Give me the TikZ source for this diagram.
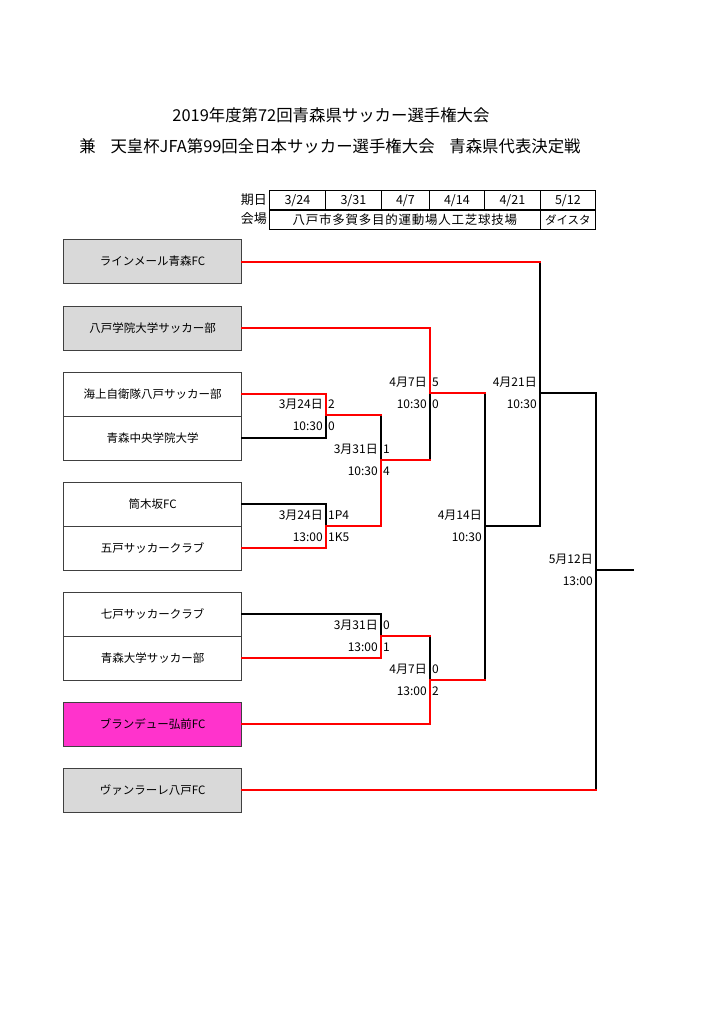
\documentclass[tikz,border=0pt]{standalone}
\usepackage{fontspec}
\setmainfont{Noto Sans CJK JP}
\definecolor{tgray}{HTML}{D9D9D9}
\definecolor{tpink}{HTML}{FF33CC}
\definecolor{tred}{HTML}{FF0000}
\newcommand\mlab[5]{%
  \node[lbl,anchor=east] (#1d) at ([shift={(-3,-11)}]#1) {#2};
  \node[lbl,anchor=east] (#1t) at ([shift={(-3,11)}]#1) {#3};
  \node[lbl,anchor=west] (#1a) at ([shift={(2,-11)}]#1) {#4};
  \node[lbl,anchor=west] (#1b) at ([shift={(2,11)}]#1) {#5};}
\begin{document}
\begin{tikzpicture}[x=1pt,y=-1pt,
  team/.style={draw=black!75, line width=1.2pt, minimum width=178pt, minimum height=44pt, inner sep=0pt, font=\fontsize{11.5}{13}\selectfont, anchor=north west},
  win/.style={tred, line width=2pt, line cap=rect},
  lose/.style={black, line width=2pt, line cap=rect},
  lbl/.style={font=\fontsize{12}{13}\selectfont, inner sep=0pt},
  cell/.style={draw=black, line width=0.8pt, minimum height=20pt, inner sep=0pt, anchor=north west, font=\fontsize{12.5}{13}\selectfont},
  tlab/.style={inner sep=0pt, anchor=east, font=\fontsize{13}{14}\selectfont}]
\useasboundingbox (0,0) rectangle (724,1024);
% titles
\node[inner sep=0pt, font=\fontsize{16.4}{18}\selectfont] (title1) at (331,115) {2019年度第72回青森県サッカー選手権大会};
\node[inner sep=0pt, font=\fontsize{16.4}{18}\selectfont] (title2) at (330,146) {兼\hspace{0.9em}天皇杯JFA第99回全日本サッカー選手権大会\hspace{0.9em}青森県代表決定戦};
% table
\node[tlab] (kijitsu) at (267,199.5) {期日};
\node[tlab] (kaijo) at (267,219) {会場};
\node[cell, minimum width=56pt] (c1) at (269,190) {3/24};
\node[cell, minimum width=56pt] (c2) at (325,190) {3/31};
\node[cell, minimum width=48pt] (c3) at (381,190) {4/7};
\node[cell, minimum width=55pt] (c4) at (429,190) {4/14};
\node[cell, minimum width=56pt] (c5) at (484,190) {4/21};
\node[cell, minimum width=55pt] (c6) at (540,190) {5/12};
\node[cell, minimum width=271pt] (v1) at (269,209.5) {\addfontfeature{LetterSpace=6}八戸市多賀多目的運動場人工芝球技場};
\node[cell, minimum width=55pt, font=\fontsize{11.5}{13}\selectfont] (v2) at (540,209.5) {ダイスタ};
% teams
\node[team, fill=tgray] (t1) at (63,239) {ラインメール青森FC};
\node[team, fill=tgray] (t2) at (63,305.5) {八戸学院大学サッカー部};
\node[team, fill=white] (t3) at (63,371.5) {海上自衛隊八戸サッカー部};
\node[team, fill=white] (t4) at (63,415.5) {青森中央学院大学};
\node[team, fill=white] (t5) at (63,481.5) {筒木坂FC};
\node[team, fill=white] (t6) at (63,525.5) {五戸サッカークラブ};
\node[team, fill=white] (t7) at (63,591.5) {七戸サッカークラブ};
\node[team, fill=white] (t8) at (63,635.5) {青森大学サッカー部};
\node[team, fill=tpink] (t9) at (63,701.5) {ブランデュー弘前FC};
\node[team, fill=tgray] (t10) at (63,767.5) {ヴァンラーレ八戸FC};
% match points
\coordinate (m1) at (326,415);
\coordinate (m2) at (326,526);
\coordinate (m3) at (381,460);
\coordinate (m4) at (381,636);
\coordinate (m5) at (430,393);
\coordinate (m6) at (430,680);
\coordinate (m7) at (485,526);
\coordinate (m8) at (540,393);
\coordinate (m9) at (596,570);
\coordinate (fin) at (633,570);
% black (losing / unplayed) lines
\draw[lose] (t4.east) -| (m1);
\draw[lose] (t5.east) -| (m2);
\draw[lose] (m1 -| m3) -- (m3);
\draw[lose] (m3 -| m5) -- (m5);
\draw[lose] (t7.east) -| (m4);
\draw[lose] (m4 -| m6) -- (m6);
\draw[lose] (m5 -| m7) -- (m7);
\draw[lose] (m6 -| m7) -- (m7);
\draw[lose] (t1.east -| m8) -- (m8);
\draw[lose] (m7) -| (m8);
\draw[lose] (m8) -| (m9);
\draw[lose] (t10.east -| m9) -- (m9);
\draw[lose] (m9) -- (fin);
% red (winning) lines
\draw[win] (t3.east) -| (m1);
\draw[win] (t6.east) -| (m2);
\draw[win] (m1) -- (m1 -| m3);
\draw[win] (m2) -| (m3);
\draw[win] (t2.east) -| (m5);
\draw[win] (m3) -- (m3 -| m5);
\draw[win] (t8.east) -| (m4);
\draw[win] (m4) -- (m4 -| m6);
\draw[win] (t9.east) -| (m6);
\draw[win] (m5) -- (m5 -| m7);
\draw[win] (m6) -- (m6 -| m7);
\draw[win] (t1.east) -- (t1.east -| m8);
\draw[win] (t10.east) -- (t10.east -| m9);
% labels
\mlab{m1}{3月24日}{10:30}{2}{0}
\mlab{m2}{3月24日}{13:00}{1P4}{1K5}
\mlab{m3}{3月31日}{10:30}{1}{4}
\mlab{m4}{3月31日}{13:00}{0}{1}
\mlab{m5}{4月7日}{10:30}{5}{0}
\mlab{m6}{4月7日}{13:00}{0}{2}
\mlab{m7}{4月14日}{10:30}{}{}
\mlab{m8}{4月21日}{10:30}{}{}
\mlab{m9}{5月12日}{13:00}{}{}
\end{tikzpicture}
\end{document}
